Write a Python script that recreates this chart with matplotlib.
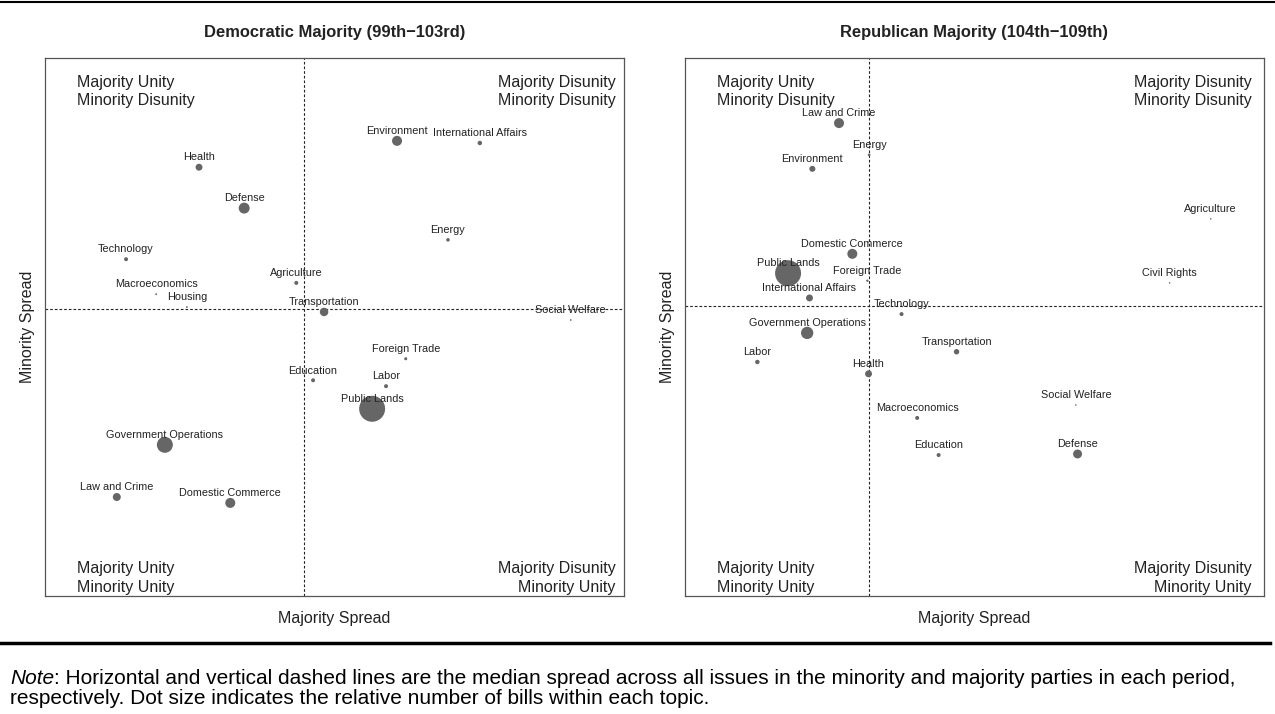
import matplotlib
matplotlib.use("Agg")
import matplotlib.pyplot as plt
from matplotlib.lines import Line2D
from matplotlib.text import Annotation

plt.rcParams['font.family'] = ['Liberation Sans', 'DejaVu Sans']

# ---- Democratic majority (99th-103rd) ----
dem_topics = ["Health", "Defense", "Technology", "Macroeconomics", "Housing", "Agriculture",
              "Transportation", "Environment", "International Affairs", "Energy", "Social Welfare",
              "Education", "Government Operations", "Law and Crime", "Domestic Commerce",
              "Foreign Trade", "Labor", "Public Lands"]
dem_majority_spread = [0.266, 0.344, 0.140, 0.192, 0.245, 0.434,
                       0.482, 0.608, 0.751, 0.696, 0.908,
                       0.463, 0.207, 0.124, 0.320,
                       0.623, 0.589, 0.565]
dem_minority_spread = [0.797, 0.721, 0.626, 0.561, 0.537, 0.582,
                       0.528, 0.846, 0.842, 0.662, 0.513,
                       0.401, 0.281, 0.184, 0.173,
                       0.441, 0.390, 0.348]
dem_bills = [12, 30, 4, 0.8, 0.8, 4,
             18, 25, 5, 3.2, 0.7,
             4, 64, 16, 25,
             2.3, 4, 169]
dem_median_majority = 0.447
dem_median_minority = 0.533

# ---- Republican majority (104th-109th) ----
rep_topics = ["Law and Crime", "Energy", "Environment", "Domestic Commerce", "Public Lands",
              "Foreign Trade", "International Affairs", "Technology", "Government Operations",
              "Labor", "Health", "Transportation", "Macroeconomics", "Education",
              "Social Welfare", "Defense", "Agriculture", "Civil Rights"]
rep_majority_spread = [0.266, 0.318, 0.220, 0.289, 0.178,
                       0.315, 0.215, 0.374, 0.211,
                       0.125, 0.317, 0.469, 0.401, 0.438,
                       0.675, 0.678, 0.908, 0.837]
rep_minority_spread = [0.879, 0.820, 0.794, 0.636, 0.600,
                       0.586, 0.554, 0.524, 0.489,
                       0.435, 0.413, 0.454, 0.331, 0.262,
                       0.355, 0.264, 0.701, 0.582]
rep_bills = [25, 1.7, 9, 25, 169,
             1.4, 12, 4, 38,
             5, 12, 7.5, 4, 4,
             0.6, 20, 0.6, 0.6]
rep_median_majority = 0.318
rep_median_minority = 0.539

panel_titles = ["Democratic Majority (99th\u2212103rd)", "Republican Majority (104th\u2212109th)"]
note_italic = "Note"
note_line1 = (": Horizontal and vertical dashed lines are the median spread across all issues in the "
              "minority and majority parties in each period,")
note_line2 = "respectively. Dot size indicates the relative number of bills within each topic."

W, H = 1275, 714
fig = plt.figure(figsize=(W / 100, H / 100), dpi=100)

dot_color = "#666666"
text_color = "#222222"
frame_color = "#555555"

panels = [
    (dem_topics, dem_majority_spread, dem_minority_spread, dem_bills,
     dem_median_majority, dem_median_minority, 45),
    (rep_topics, rep_majority_spread, rep_minority_spread, rep_bills,
     rep_median_majority, rep_median_minority, 685),
]

for i, (topics, xs, ys, bills, mx, my, left_px) in enumerate(panels):
    ax = fig.add_axes([left_px / W, 1 - 596 / H, 579 / W, 538 / H])
    ax.set_xlim(0, 1)
    ax.set_ylim(0, 1)
    ax.set_xticks([])
    ax.set_yticks([])
    for sp in ax.spines.values():
        sp.set_color(frame_color)
        sp.set_linewidth(0.9)
    ax.axvline(mx, color="#222222", lw=0.8, ls=(0, (2.4, 1.8)), zorder=1)
    ax.axhline(my, color="#222222", lw=0.8, ls=(0, (2.4, 1.8)), zorder=1)
    sizes = [2.07 * b for b in bills]
    ax.scatter(xs, ys, s=sizes, color=dot_color, edgecolors="none", zorder=2)
    for t, x, y in zip(topics, xs, ys):
        ax.annotate(t, (x, y), xytext=(0, 7), textcoords="offset points",
                    ha="center", va="center", fontsize=7.8, color=text_color, zorder=3)
    qfs = 11.5
    lx = 0.055
    rx = 0.985 if i == 0 else 0.978
    ax.text(lx, 0.969, "Majority Unity\nMinority Disunity", transform=ax.transAxes,
            ha="left", va="top", fontsize=qfs, color=text_color, linespacing=1.3)
    ax.text(rx, 0.969, "Majority Disunity\nMinority Disunity", transform=ax.transAxes,
            ha="right", va="top", fontsize=qfs, color=text_color, linespacing=1.3)
    ax.text(lx, 0.002, "Majority Unity\nMinority Unity", transform=ax.transAxes,
            ha="left", va="bottom", fontsize=qfs, color=text_color, linespacing=1.3)
    ax.text(rx, 0.002, "Majority Disunity\nMinority Unity", transform=ax.transAxes,
            ha="right", va="bottom", fontsize=qfs, color=text_color, linespacing=1.3)
    ax.set_xlabel("Majority Spread", fontsize=11.5, color=text_color, labelpad=11)
    ax.set_ylabel("Minority Spread", fontsize=11.5, color=text_color, labelpad=7)
    ax.set_title(panel_titles[i], fontsize=11.9, fontweight="bold", color=text_color, pad=15)

# horizontal rules
fig.add_artist(Line2D([0, 1], [1 - 2 / H, 1 - 2 / H], color="black", lw=1.5,
                      transform=fig.transFigure))
fig.add_artist(Line2D([0, 1270 / W], [1 - 643 / H, 1 - 643 / H], color="black", lw=2.5,
                      transform=fig.transFigure))

nfs = 15
t1 = fig.text(10 / W, 1 - 678 / H, note_italic, fontsize=nfs, style="italic",
              ha="left", va="center", color="black")
a = Annotation(note_line1, xy=(1, 0), xycoords=t1, xytext=(0, 0), textcoords="offset points",
               ha="left", va="bottom", fontsize=nfs, color="black")
fig.add_artist(a)
fig.text(10 / W, 1 - 698 / H, note_line2, fontsize=nfs, ha="left", va="center", color="black")

fig.savefig("out.png", dpi=100)
